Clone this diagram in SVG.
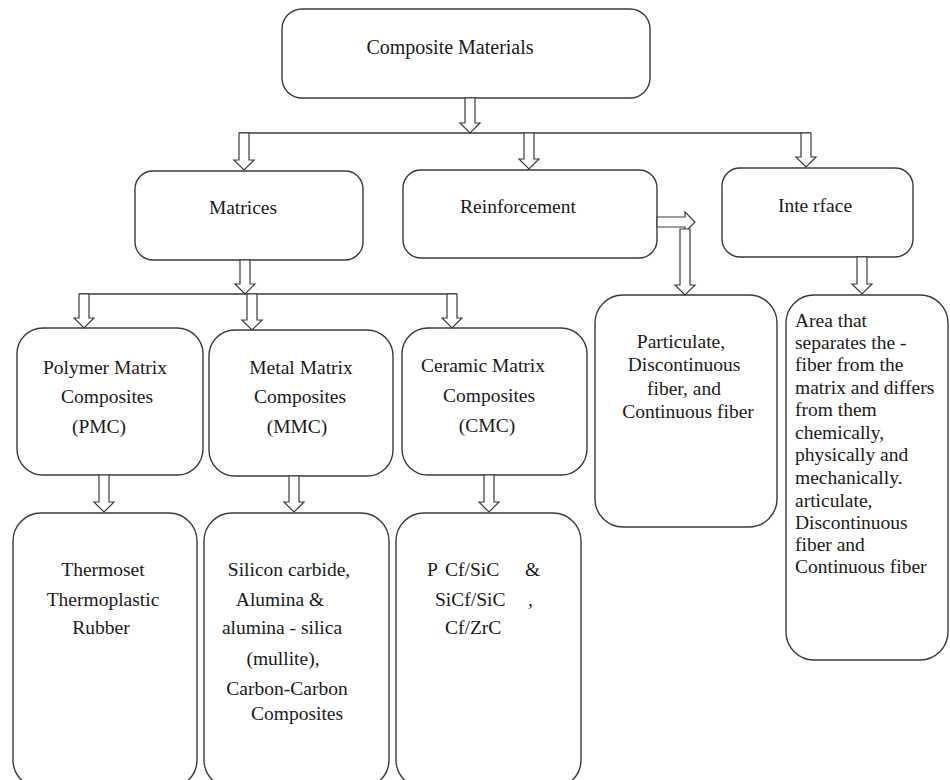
<svg xmlns="http://www.w3.org/2000/svg" width="950" height="780" viewBox="0 0 950 780">
<style>
.box{fill:#fff;stroke:#3a3a3a;stroke-width:1.4}
.arr{fill:#fff;stroke:#3a3a3a;stroke-width:1.2;stroke-linejoin:miter}
.ln{fill:none;stroke:#3a3a3a;stroke-width:1.4}
text{font-family:"Liberation Serif","Times New Roman",serif;font-size:19.5px;fill:#1a1a1a}
.c{text-anchor:middle}
</style>
<rect width="950" height="780" fill="#fff"/>
<g id="composite">
<rect class="box" x="282" y="9" width="368" height="89" rx="20"/>
<text class="c" x="450" y="54" style="font-size:20px">Composite Materials</text>
</g>
<g id="matrices">
<rect class="box" x="135" y="171" width="228" height="89" rx="18"/>
<text class="c" x="243" y="214">Matrices</text>
</g>
<g id="reinforcement">
<rect class="box" x="403" y="170" width="254" height="88" rx="18"/>
<text class="c" x="518" y="213">Reinforcement</text>
</g>
<g id="interface">
<rect class="box" x="722" y="168" width="191" height="89" rx="18"/>
<text class="c" x="815" y="212">Inte rface</text>
</g>
<g id="pmc">
<rect class="box" x="17" y="328" width="186" height="147" rx="26"/>
<text class="c" x="105" y="374">Polymer Matrix</text>
<text class="c" x="107" y="403">Composites</text>
<text class="c" x="99" y="433">(PMC)</text>
</g>
<g id="mmc">
<rect class="box" x="209" y="330" width="184" height="146" rx="26"/>
<text class="c" x="301" y="374">Metal Matrix</text>
<text class="c" x="300" y="403">Composites</text>
<text class="c" x="297" y="433">(MMC)</text>
</g>
<g id="cmc">
<rect class="box" x="402" y="328" width="185" height="147" rx="26"/>
<text class="c" x="483" y="372">Ceramic Matrix</text>
<text class="c" x="489" y="402">Composites</text>
<text class="c" x="487" y="432">(CMC)</text>
</g>
<g id="particulate">
<rect class="box" x="595" y="295" width="182" height="232" rx="28"/>
<text class="c" x="681" y="348">Particulate,</text>
<text class="c" x="684" y="371">Discontinuous</text>
<text class="c" x="684" y="395">fiber, and</text>
<text class="c" x="688" y="418">Continuous fiber</text>
</g>
<g id="interface-detail">
<rect class="box" x="786" y="295" width="162" height="365" rx="28"/>
<text x="795" y="327">Area that</text>
<text x="795" y="349">separates the -</text>
<text x="795" y="371">fiber from the</text>
<text x="795" y="394">matrix and differs</text>
<text x="795" y="416">from them</text>
<text x="795" y="439">chemically,</text>
<text x="795" y="461">physically and</text>
<text x="795" y="484">mechanically.</text>
<text x="795" y="507">articulate,</text>
<text x="795" y="529">Discontinuous</text>
<text x="795" y="551">fiber and</text>
<text x="795" y="573">Continuous fiber</text>
</g>
<g id="pmc-types">
<rect class="box" x="13" y="513" width="184" height="275" rx="28"/>
<text class="c" x="103" y="576">Thermoset</text>
<text class="c" x="103" y="606">Thermoplastic</text>
<text class="c" x="101" y="634">Rubber</text>
</g>
<g id="mmc-types">
<rect class="box" x="204" y="513" width="185" height="275" rx="28"/>
<text class="c" x="289" y="576">Silicon carbide,</text>
<text class="c" x="280" y="606">Alumina &amp;</text>
<text class="c" x="282" y="634">alumina - silica</text>
<text class="c" x="283" y="665">(mullite),</text>
<text class="c" x="287" y="695">Carbon-Carbon</text>
<text class="c" x="297" y="720">Composites</text>
</g>
<g id="cmc-types">
<rect class="box" x="396" y="513" width="185" height="275" rx="28"/>
<text y="576"><tspan x="427">P</tspan><tspan x="445">Cf/SiC</tspan><tspan x="525">&amp;</tspan></text>
<text y="606"><tspan x="435">SiCf/SiC</tspan><tspan x="528">,</tspan></text>
<text x="445" y="634">Cf/ZrC</text>
</g>
<g id="connectors">
<path class="ln" d="M239,133 H811"/>
<path class="ln" d="M79,294 H457"/>
<polygon class="arr" points="465,98 475,98 475,123 480,123 470,133 460,123 465,123"/>
<polygon class="arr" points="239,133 249,133 249,160 254,160 244,170 234,160 239,160"/>
<polygon class="arr" points="524,133 534,133 534,159 539,159 529,169 519,159 524,159"/>
<polygon class="arr" points="801,133 811,133 811,157 816,157 806,167 796,157 801,157"/>
<polygon class="arr" points="657,217 685,217 685,212 695,222 685,232 685,227 657,227"/>
<polygon class="arr" points="680,229 690,229 690,285 695,285 685,295 675,285 680,285"/>
<polygon class="arr" points="857,257 867,257 867,284 872,284 862,294 852,284 857,284"/>
<polygon class="arr" points="240,260 250,260 250,284 255,284 245,294 235,284 240,284"/>
<polygon class="arr" points="79,294 89,294 89,318 94,318 84,328 74,318 79,318"/>
<polygon class="arr" points="247,294 257,294 257,320 262,320 252,330 242,320 247,320"/>
<polygon class="arr" points="447,294 457,294 457,318 462,318 452,328 442,318 447,318"/>
<polygon class="arr" points="99,475 109,475 109,502 114,502 104,512 94,502 99,502"/>
<polygon class="arr" points="289,476 299,476 299,502 304,502 294,512 284,502 289,502"/>
<polygon class="arr" points="484,475 494,475 494,502 499,502 489,512 479,502 484,502"/>
</g>
</svg>
